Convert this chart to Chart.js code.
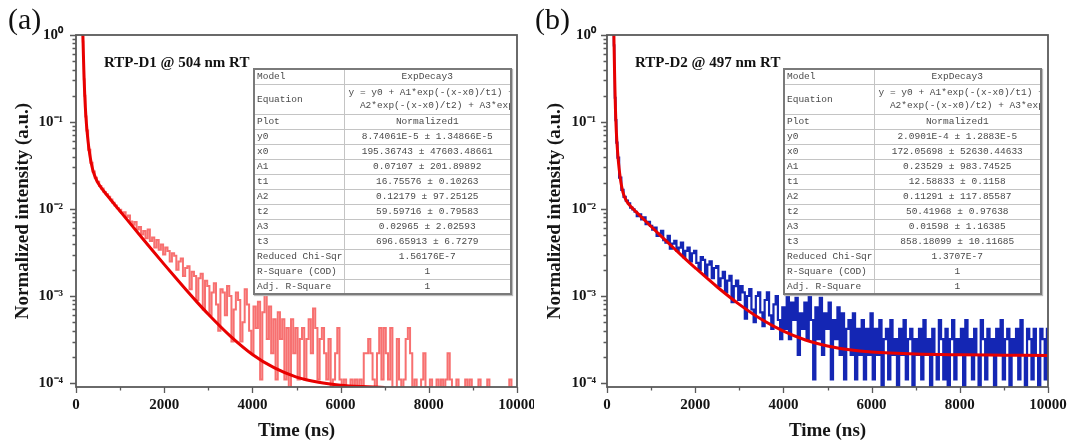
<!DOCTYPE html>
<html><head><meta charset="utf-8">
<script src="https://cdn.jsdelivr.net/npm/chart.js@4.4.1/dist/chart.umd.min.js"></script>
<style>
html,body{margin:0;padding:0;background:#fff;width:1069px;height:444px;overflow:hidden;position:relative;font-family:"Liberation Serif",serif}
canvas{position:absolute;top:0}
#c1{left:0}
#c2{left:534px}
.lab{position:absolute;font:30px "Liberation Serif",serif;color:#111;line-height:30px}
.ttl{position:absolute;font:bold 15px "Liberation Serif",serif;color:#111;white-space:nowrap;line-height:16px}
table.fit{position:absolute;border-collapse:collapse;border:2px solid #7a7a7a;background:#fff;font:9.5px "Liberation Mono",monospace;color:#4a4a4a;table-layout:fixed;box-shadow:1px 1px 1px #bbb}
table.fit td{border:1px solid #c4c4c4;padding:0 2px;line-height:13px;white-space:nowrap;overflow:hidden}
table.fit td.v{text-align:center}
table.fit td.eq{text-align:left;padding-left:4px}
table.fit tr{height:15px}
table.fit tr.two{height:30px}
</style></head>
<body>
<canvas id="c1" width="534" height="444"></canvas>
<canvas id="c2" width="535" height="444"></canvas>
<div class="lab" style="left:8px;top:4px">(a)</div>
<div class="lab" style="left:535px;top:4px">(b)</div>
<div class="ttl" style="left:104px;top:54px">RTP-D1 @ 504 nm RT</div>
<div class="ttl" style="left:635px;top:54px">RTP-D2 @ 497 nm RT</div>
<table class="fit" id="t1" style="left:253px;top:68px;width:257px"></table>
<table class="fit" id="t2" style="left:783px;top:68px;width:257px"></table>
<script>
// ---- sampling times (ns) of the measured decays ----
const timeNs = [150,160,170,185,200,225,250,300,350,400,450,500,550,600,650,700,750,800,850,900,950,
1000,1050,1100,1150,1200,1250,1300,1350,1400,1450,
1500,1550,1600,1650,1700,1750,1800,1850,1900,1950,
2000,2050,2100,2150,2200,2250,2300,2350,2400,2450,
2500,2550,2600,2650,2700,2750,2800,2850,2900,2950,
3000,3050,3100,3150,3200,3250,3300,3350,3400,3450,
3500,3550,3600,3650,3700,3750,3800,3850,3900,3950,
4000,4050,4100,4150,4200,4250,4300,4350,4400,4450,
4500,4550,4600,4650,4700,4750,4800,4850,4900,4950,
5000,5050,5100,5150,5200,5250,5300,5350,5400,5450,
5500,5550,5600,5650,5700,5750,5800,5850,5900,5950,
6000,6050,6100,6150,6200,6250,6300,6350,6400,6450,
6500,6550,6600,6650,6700,6750,6800,6850,6900,6950,
7000,7050,7100,7150,7200,7250,7300,7350,7400,7450,
7500,7550,7600,7650,7700,7750,7800,7850,7900,7950,
8000,8050,8100,8150,8200,8250,8300,8350,8400,8450,
8500,8550,8600,8650,8700,8750,8800,8850,8900,8950,
9000,9050,9100,9150,9200,9250,9300,9350,9400,9450,
9500,9550,9600,9650,9700,9750,9800,9850,9900,9950,
10000];

// ---- RTP-D1 measured (normalized), 0 = no counts ----
const d1Intensity = [1.0,0.84,0.55,0.31,0.20,0.116,0.080,0.048,0.034,0.027,0.0228,0.0206,0.0184,0.0172,0.0157,0.0148,0.0138,0.0129,0.0118,0.0110,0.0102,
0.0098,0.0090,0.0092,0.0081,0.0084,0.0072,0.0066,0.0071,0.0058,0.0062,
0.0051,0.0056,0.0046,0.0058,0.0043,0.0047,0.0036,0.0044,0.0034,0.0039,
0.0030,0.0036,0.0033,0.0025,0.0031,0.0029,0.0020,0.0025,0.0027,0.0017,
0.0021,0.0022,0.0012,0.0019,0.0017,0.0009,0.0016,0.0018,0.0007,0.0015,
0.0013,0.0006,0.0011,0.0014,0.0008,0.0004,0.0012,0.0011,0.0006,0.0013,
0.0010,0.0003,0.0007,0.0011,0.0009,0.0003,0.0005,0.0012,0.0008,0.0004,
0.00022,0.00076,0.00043,0.00086,0.00011,0.00065,0.00108,0.00032,0.00076,0.00022,
0.00054,0.00011,0.00065,0.00032,0.00054,0.00011,0.00043,0,0.00054,0.00022,
0.00043,0.00011,0.00032,0.00043,0.00011,0.00032,0.00054,0.00022,0.00072,0.00043,
0.00011,0.00032,0.00043,0.00022,0.00011,0.00032,0,0.00011,0.00022,0.00043,
0.00011,0,0.00011,0,0,0.00011,0,0.00011,0,0.00011,
0,0.00022,0.00022,0.00032,0.00022,0.00011,0,0.00022,0.00043,0.00011,
0.00043,0.00022,0.00011,0.00043,0,0,0.00032,0.00011,0,0.00011,
0.00032,0.00043,0.00022,0,0.00011,0,0,0.00011,0.00022,0,
0,0.00011,0,0,0.00011,0,0.00011,0,0.00011,0.00022,
0.00011,0,0,0.00011,0,0,0,0.00011,0,0.00011,
0,0,0,0.00011,0,0,0,0.00011,0,0,
0,0,0,0,0,0,0,0.00011,0,0,
0];

// ---- RTP-D2 measured (normalized) ----
const d2Intensity = [1.0,0.76,0.41,0.19,0.105,0.058,0.039,0.023,0.0166,0.0138,0.0125,0.0116,0.0104,0.0099,0.0093,0.0083,0.0087,0.0076,0.0080,0.0067,0.0071,
0.0064,0.0058,0.0061,0.0049,0.0052,0.0056,0.0044,0.0041,0.0049,0.0035,
0.0040,0.0043,0.0033,0.0036,0.0041,0.0028,0.0033,0.0036,0.0025,0.0031,
0.0033,0.0024,0.0020,0.0028,0.0026,0.0017,0.0023,0.0025,0.0016,0.0021,
0.0022,0.0013,0.0016,0.0019,0.0011,0.0015,0.0017,0.00085,0.0013,0.0015,
0.0009,0.0013,0.0011,0.00055,0.0010,0.0012,0.0007,0.0005,0.0010,0.0011,
0.00065,0.00045,0.0009,0.0011,0.0006,0.00042,0.0008,0.0010,0.00053,0.00032,
0.00074,0.00042,0.0012,0.00032,0.00084,0.00053,0.00095,0.00021,0.00063,0.00042,
0.00084,0.00032,0.00105,0.00053,0.00011,0.00074,0.00032,0.00095,0.00021,0.00063,
0.00042,0.00084,0.00011,0.00053,0.00032,0.00074,0.00021,0.00063,0.00011,0.00042,
0.00053,0.00021,0.00063,0.00011,0.00042,0.00021,0.00053,0.00011,0.00042,0.00021,
0.00063,0.00011,0.00042,0.00021,0.00053,0,0.00032,0.00042,0.00011,0.00053,
0.00021,0.00032,0,0.00042,0.00021,0.00053,0.00011,0.00032,0.00042,0,
0.00032,0.00021,0.00042,0.00011,0.00053,0.00021,0.00032,0,0.00042,0.00021,
0.00011,0.00053,0.00032,0.00011,0.00042,0,0.00032,0.00053,0.00011,0.00032,
0.00021,0.00042,0,0.00053,0.00021,0.00032,0.00011,0.00042,0.00021,0,
0.00053,0.00032,0.00011,0.00042,0.00021,0.00032,0,0.00042,0.00021,0.00053,
0.00011,0.00032,0.00042,0,0.00032,0.00021,0.00042,0.00011,0.00053,0.00021,
0,0.00042,0.00032,0.00011,0.00042,0.00021,0,0.00042,0.00032,0.00011,
0.00042];

// ---- ExpDecay3 fit curves ----
const d1FitTime = [150,155,160,165,170,178,185,192,200,212,225,237,250,275,300,325,350,375,400,450,500,600,700,800,1000,1250,1500,1750,2000,2250,2500,2750,3000,3500,4000,4500,5000,5500,6000,6500,7000];
const d1FitValue = [1.36,1.061,0.839,0.669,0.540,0.394,0.307,0.2456,0.196,0.1474,0.1147,0.0944,0.0789,0.0592,0.0468,0.0385,0.0329,0.0290,0.0261,0.0224,0.0199,0.0168,0.01448,0.01254,0.00943,0.00661,0.004645,0.003271,0.002311,0.00164,0.001172,0.000845,0.000617,0.000346,0.000213,0.000149,0.000117,0.000102,0.0000945,0.000091,0.0000891];
const d2FitTime = [150,155,160,165,170,175,180,185,192,200,212,225,237,250,275,300,325,350,375,400,450,500,600,700,800,1000,1250,1500,1750,2000,2500,3000,3500,4000,4500,5000,5500,6000,7000,8000,9000,10000];
const d2FitValue = [1.55,1.087,0.773,0.5583,0.4109,0.3088,0.2377,0.1875,0.1401,0.1061,0.0764,0.0582,0.0475,0.0393,0.0291,0.0229,0.0190,0.0165,0.01484,0.0137,0.01223,0.01128,0.00994,0.00885,0.0079,0.0063,0.00476,0.00361,0.00275,0.00211,0.00127,0.000802,0.00054,0.000394,0.000312,0.000267,0.000241,0.000227,0.000215,0.000211,0.000209,0.000207];

// ---- axes ----
const xTickStep = 1000;
const xLabelEvery = 2000;
const xRange = [0, 10000];
const yRange = [9e-5, 1];

// ---- fit-result tables ----
const fitRowNames = ['Model','Equation','Plot','y0','x0','A1','t1','A2','t2','A3','t3','Reduced Chi-Sqr','R-Square (COD)','Adj. R-Square'];
const equationLines = ['y = y0 + A1*exp(-(x-x0)/t1) +','  A2*exp(-(x-x0)/t2) + A3*exp('];
const d1FitText = ['ExpDecay3', null, 'Normalized1','8.74061E-5 \u00b1 1.34866E-5','195.36743 \u00b1 47603.48661','0.07107 \u00b1 201.89892','16.75576 \u00b1 0.10263','0.12179 \u00b1 97.25125','59.59716 \u00b1 0.79583','0.02965 \u00b1 2.02593','696.65913 \u00b1 6.7279','1.56176E-7','1','1'];
const d2FitText = ['ExpDecay3', null, 'Normalized1','2.0901E-4 \u00b1 1.2883E-5','172.05698 \u00b1 52630.44633','0.23529 \u00b1 983.74525','12.58833 \u00b1 0.1158','0.11291 \u00b1 117.85587','50.41968 \u00b1 0.97638','0.01598 \u00b1 1.16385','858.18099 \u00b1 10.11685','1.3707E-7','1','1'];

function buildTable(id, texts){
  const t = document.getElementById(id);
  const cg = document.createElement('colgroup');
  cg.innerHTML = '<col style="width:90px"><col style="width:167px">';
  t.appendChild(cg);
  fitRowNames.forEach((name,i)=>{
    const tr = document.createElement('tr');
    const a = document.createElement('td'); a.textContent = name; tr.appendChild(a);
    const b = document.createElement('td');
    if(texts[i] === null){
      tr.className = 'two'; b.className = 'eq';
      equationLines.forEach(l=>{const d=document.createElement('div'); d.textContent=l; d.style.whiteSpace='pre'; b.appendChild(d);});
    } else { b.className = 'v'; b.textContent = texts[i]; }
    tr.appendChild(b); t.appendChild(tr);
  });
}
buildTable('t1', d1FitText);
buildTable('t2', d2FitText);

const SUP = {'0':'\u2070','1':'\u00b9','2':'\u00b2','3':'\u00b3','4':'\u2074','-':'\u207b'};
function isDecade(v){const l=Math.log10(v);return Math.abs(l-Math.round(l))<1e-6;}
function decadeLabel(v){const e=String(Math.round(Math.log10(v)));return '10'+e.split('').map(c=>SUP[c]).join('');}

const ZERO_FLOOR = 1e-6; // zero counts cannot sit on a log axis: send them below it
function pts(xs, ys){return xs.map((x,i)=>({x:x, y: ys[i]===0 ? ZERO_FLOOR : ys[i]}));}

const framePlugin = {
  id:'frame',
  afterDatasetsDraw(chart){
    const {ctx, chartArea:a, scales:{x,y}} = chart;
    ctx.save();
    ctx.strokeStyle='#5a5a5a'; ctx.lineWidth=1.8;
    ctx.strokeRect(a.left, a.top, a.right-a.left, a.bottom-a.top);
    ctx.lineWidth=1.3;
    ctx.beginPath();
    x.ticks.forEach(t=>{const px=Math.round(x.getPixelForValue(t.value))+0.5; const len=(t.value%xLabelEvery===0)?6:3.5; ctx.moveTo(px,a.bottom); ctx.lineTo(px,a.bottom+len);});
    y.ticks.forEach(t=>{
      if(t.value < 1e-4*0.999) return;
      const m = t.value/Math.pow(10,Math.floor(Math.log10(t.value)+1e-9));
      if(Math.abs(m-1.5)<1e-6) return;
      const py=Math.round(y.getPixelForValue(t.value))+0.5;
      const len=isDecade(t.value)?6:3.5; ctx.moveTo(a.left,py); ctx.lineTo(a.left-len,py);
    });
    ctx.stroke(); ctx.restore();
  }
};

function makeChart(id, yWidth, rightPad, titlePadLeft, dataPts, dataColor, dataWidth, fitPts){
  return new Chart(document.getElementById(id), {
    type:'line',
    data:{datasets:[
      {data:fitPts, borderColor:'#e80000', borderWidth:3, pointRadius:0, cubicInterpolationMode:'monotone', fill:false},
      {data:dataPts, borderColor:dataColor, borderWidth:dataWidth, pointRadius:0, stepped:'middle', fill:false}
    ]},
    options:{
      responsive:false, animation:false, devicePixelRatio:1,
      layout:{padding:{left:0,right:rightPad,top:35,bottom:0}},
      plugins:{legend:{display:false}, tooltip:{enabled:false}},
      scales:{
        x:{type:'linear', min:xRange[0], max:xRange[1],
           grid:{display:false, drawTicks:false}, border:{display:false},
           ticks:{stepSize:xTickStep, autoSkip:false, maxRotation:0, padding:9, color:'#151515',
                  font:{family:'"Liberation Serif", serif', weight:'bold', size:15},
                  callback:(v)=> (v%xLabelEvery===0 ? String(v) : '')},
           title:{display:true, text:'Time (ns)', color:'#151515', font:{family:'"Liberation Serif", serif', weight:'bold', size:19}, padding:{top:0,bottom:2}},
           afterFit:(s)=>{s.height=57; s.paddingLeft=0; s.paddingRight=0;}
        },
        y:{type:'logarithmic', min:yRange[0], max:yRange[1],
           grid:{display:false, drawTicks:false}, border:{display:false},
           ticks:{autoSkip:false, padding:yWidth===76?13:11, color:'#151515',
                  font:{family:'"Liberation Serif", serif', weight:'bold', size:15},
                  callback:(v)=> (isDecade(v) ? decadeLabel(v) : '')},
           title:{display:true, text:'Normalized intensity (a.u.)', color:'#151515', font:{family:'"Liberation Serif", serif', weight:'bold', size:19}, padding:{top:titlePadLeft,bottom:0}},
           afterFit:(s)=>{s.width=yWidth; s.paddingTop=0; s.paddingBottom=0;}
        }
      }
    },
    plugins:[framePlugin]
  });
}

makeChart('c1', 76, 17, 12, pts(timeNs, d1Intensity), '#f77070', 2.0, pts(d1FitTime, d1FitValue));
makeChart('c2', 73, 21, 10, pts(timeNs, d2Intensity), '#1426b4', 2.2, pts(d2FitTime, d2FitValue));
</script>
</body></html>
